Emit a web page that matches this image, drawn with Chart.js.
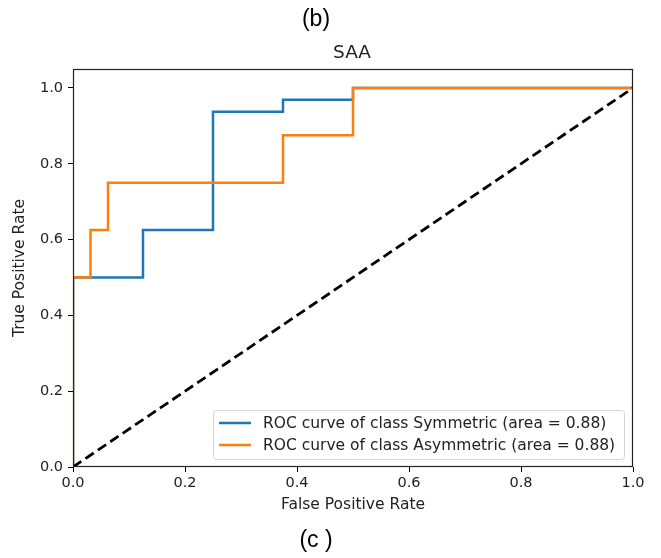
<!DOCTYPE html>
<html>
<head>
<meta charset="utf-8">
<script src="https://cdn.jsdelivr.net/npm/chart.js@4.4.1/dist/chart.umd.min.js"></script>
<style>
  html, body { margin: 0; padding: 0; background: #fff; }
  #wrap { position: relative; width: 661px; height: 558px; }
</style>
</head>
<body>
<div id="wrap"><canvas id="roc" width="661" height="558"></canvas></div>
<script>
// ROC points
const symFpr = [0, 0, 0.125, 0.125, 0.25, 0.25, 0.375, 0.375, 0.5, 0.5, 1];
const symTpr = [0, 0.5, 0.5, 0.625, 0.625, 0.9375, 0.9375, 0.96875, 0.96875, 1, 1];
const asymFpr = [0, 0, 0.03125, 0.03125, 0.0625, 0.0625, 0.375, 0.375, 0.5, 0.5, 1];
const asymTpr = [0, 0.5, 0.5, 0.625, 0.625, 0.75, 0.75, 0.875, 0.875, 1, 1];
const chanceLine = [0, 1];
const xTicks = [0, 0.2, 0.4, 0.6, 0.8, 1.0];
const yTicks = [0, 0.2, 0.4, 0.6, 0.8, 1.0];
const seriesLabels = ['ROC curve of class Symmetric (area = 0.88)', 'ROC curve of class Asymmetric (area = 0.88)'];

// Function to zip x/y arrays into points
function toPoints(xs, ys) {
    return xs.map((x, i) => ({ x: x, y: ys[i] }));
}

// Frame, titles and legend drawn like matplotlib
const decorPlugin = {
    id: 'decor',
    afterDatasetsDraw(chart) {
        const ctx = chart.ctx;
        const a = chart.chartArea;
        ctx.save();
        ctx.strokeStyle = '#222';
        ctx.lineWidth = 1.2;
        ctx.strokeRect(a.left + 0.5, a.top + 0.5, a.right - a.left - 1, a.bottom - a.top - 1);

        // legend, lower right
        const lw = 411, lh = 49;
        const lx = a.right - 9 - lw, ly = a.bottom - 8 - lh;
        ctx.fillStyle = 'rgba(255,255,255,0.8)';
        ctx.strokeStyle = '#d6d6d6';
        ctx.lineWidth = 1;
        ctx.beginPath();
        ctx.roundRect(lx + 0.5, ly + 0.5, lw, lh, 3);
        ctx.fill();
        ctx.stroke();
        ctx.font = '15.5px "DejaVu Sans"';
        ctx.textBaseline = 'middle';
        ctx.textAlign = 'left';
        chart.data.datasets.slice(0, 2).forEach((ds, i) => {
            const yy = ly + 13 + i * 22;
            ctx.strokeStyle = ds.borderColor;
            ctx.lineWidth = 2.5;
            ctx.beginPath();
            ctx.moveTo(lx + 6, yy);
            ctx.lineTo(lx + 38, yy);
            ctx.stroke();
            ctx.fillStyle = '#222';
            ctx.fillText(ds.label, lx + 50, yy + 1);
        });

        // titles and axis labels
        ctx.fillStyle = '#000';
        ctx.textAlign = 'center';
        ctx.font = '23px "Liberation Sans"';
        ctx.fillText('(b)', 316, 20);
        ctx.fillText('(c )', 316, 541);
        ctx.fillStyle = '#222';
        ctx.font = '18.5px "DejaVu Sans"';
        ctx.fillText('SAA', 352, 53);
        ctx.font = '15.5px "DejaVu Sans"';
        ctx.fillText('False Positive Rate', (a.left + a.right) / 2, 505);
        ctx.translate(20, (a.top + a.bottom) / 2);
        ctx.rotate(-Math.PI / 2);
        ctx.fillText('True Positive Rate', 0, 0);
        ctx.restore();
    }
};

new Chart(document.getElementById('roc').getContext('2d'), {
    type: 'scatter',
    data: {
        datasets: [
            {
                label: seriesLabels[0],
                data: toPoints(symFpr, symTpr),
                showLine: true,
                borderColor: '#1f77b4',
                borderWidth: 2.5,
                pointRadius: 0,
                order: 3
            },
            {
                label: seriesLabels[1],
                data: toPoints(asymFpr, asymTpr),
                showLine: true,
                borderColor: '#ff7f0e',
                borderWidth: 2.5,
                pointRadius: 0,
                order: 2
            },
            {
                label: 'chance',
                data: toPoints(chanceLine, chanceLine),
                showLine: true,
                borderColor: '#000',
                borderWidth: 2.8,
                borderDash: [10, 5],
                pointRadius: 0,
                order: 1
            }
        ]
    },
    options: {
        responsive: false,
        animation: false,
        events: [],
        layout: { padding: { top: 69, right: 28, left: 0, bottom: 0 } },
        plugins: {
            legend: { display: false },
            title: { display: false },
            tooltip: { enabled: false }
        },
        scales: {
            x: {
                type: 'linear',
                min: 0,
                max: 1,
                afterBuildTicks: s => { s.ticks = xTicks.map(v => ({ value: v })); },
                afterFit: s => { s.height = 91; },
                grid: { drawOnChartArea: false, drawTicks: true, tickLength: 5, color: '#000' },
                border: { display: false },
                ticks: {
                    color: '#222',
                    font: { family: 'DejaVu Sans', size: 14.5 },
                    padding: 3,
                    maxRotation: 0,
                    callback: v => v.toFixed(1)
                }
            },
            y: {
                type: 'linear',
                min: 0,
                max: 1.05,
                afterBuildTicks: s => { s.ticks = yTicks.map(v => ({ value: v })); },
                afterFit: s => { s.width = 73; },
                grid: { drawOnChartArea: false, drawTicks: true, tickLength: 5, color: '#000' },
                border: { display: false },
                ticks: {
                    color: '#222',
                    font: { family: 'DejaVu Sans', size: 14.5 },
                    padding: 5,
                    callback: v => v.toFixed(1)
                }
            }
        }
    },
    plugins: [decorPlugin]
});
</script>
</body>
</html>
